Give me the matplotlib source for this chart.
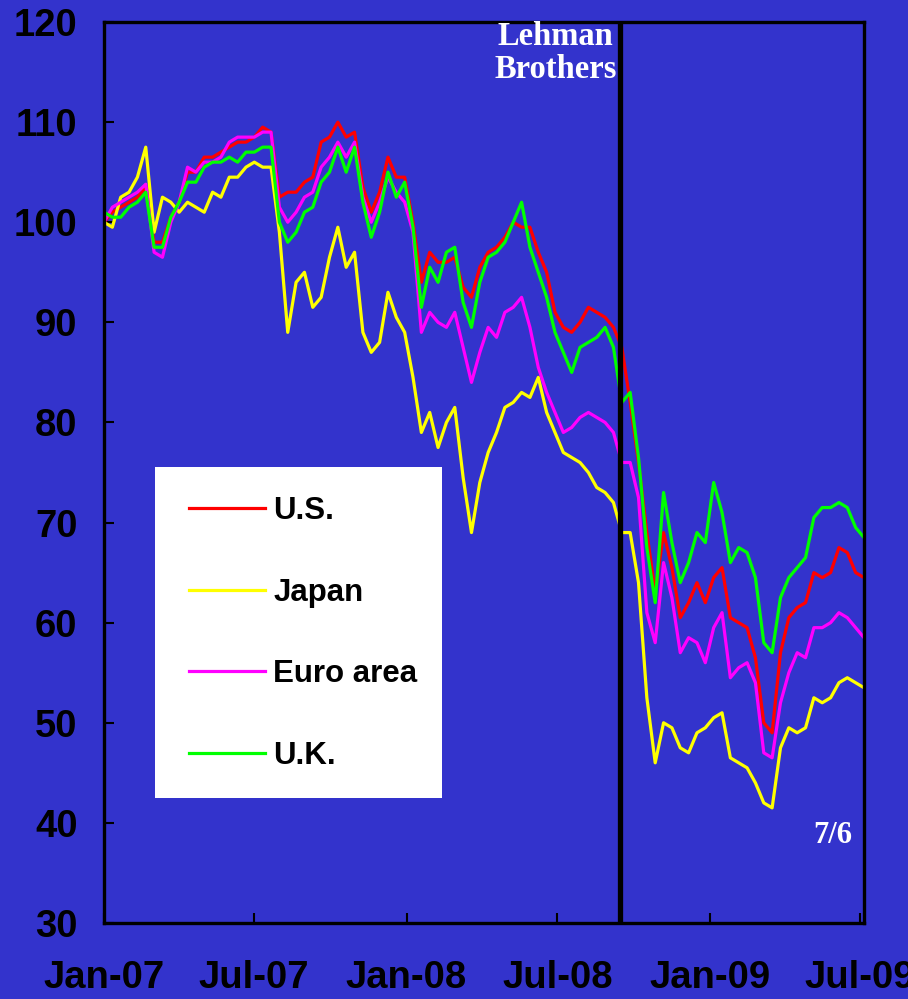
import matplotlib
matplotlib.use('Agg')
import matplotlib.pyplot as plt
import matplotlib.dates as mdates
from matplotlib.patches import Rectangle
import pandas as pd

# stock indices, Jan 2007 = 100, read roughly every 10 days
dates = pd.date_range('2007-01-01', '2009-07-06', periods=92)

us = [100, 101, 101.5, 102, 102.5, 103.5, 98, 98, 100.5, 102,
      105, 105, 106.5, 106.5, 107, 107.5, 108, 108, 108.5, 109.5,
      109, 102.5, 103, 103, 104, 104.5, 108, 108.5, 110, 108.5,
      109, 103.5, 101, 103, 106.5, 104.5, 104.5, 100, 94, 97,
      96, 96, 96.5, 93.5, 92.5, 95.5, 97, 97.5, 98.5, 100,
      99.5, 99.5, 97, 95, 91, 89.5, 89, 90, 91.5, 91,
      90.5, 89.5, 87.5, 82, 76, 69, 63, 69, 65.5, 60.5,
      62, 64, 62, 64.5, 65.5, 60.5, 60, 59.5, 56.5, 50,
      49, 57, 60.5, 61.5, 62, 65, 64.5, 65, 67.5, 67,
      65, 64.5]

jp = [100, 99.5, 102.5, 103, 104.5, 107.5, 99, 102.5, 102, 101,
      102, 101.5, 101, 103, 102.5, 104.5, 104.5, 105.5, 106, 105.5,
      105.5, 99, 89, 94, 95, 91.5, 92.5, 96.5, 99.5, 95.5,
      97, 89, 87, 88, 93, 90.5, 89, 84.5, 79, 81,
      77.5, 80, 81.5, 74.5, 69, 74, 77, 79, 81.5, 82,
      83, 82.5, 84.5, 81, 79, 77, 76.5, 76, 75, 73.5,
      73, 72, 69, 69, 64, 52.5, 46, 50, 49.5, 47.5,
      47, 49, 49.5, 50.5, 51, 46.5, 46, 45.5, 44, 42,
      41.5, 47.5, 49.5, 49, 49.5, 52.5, 52, 52.5, 54, 54.5,
      54, 53.5]

eu = [100, 101.5, 102, 102.5, 103, 103.8, 97, 96.5, 100, 102,
      105.5, 105, 106, 106, 106.5, 108, 108.5, 108.5, 108.5, 109,
      109, 101.5, 100, 101, 102.5, 103, 105.5, 106.5, 108, 106.5,
      108, 102.5, 100, 102, 104.5, 103, 102, 99, 89, 91,
      90, 89.5, 91, 87.5, 84, 87, 89.5, 88.5, 91, 91.5,
      92.5, 89.5, 85.5, 83, 81, 79, 79.5, 80.5, 81, 80.5,
      80, 79, 76, 76, 72.5, 61, 58, 66, 62.5, 57,
      58.5, 58, 56, 59.5, 61, 54.5, 55.5, 56, 54, 47,
      46.5, 52, 55, 57, 56.5, 59.5, 59.5, 60, 61, 60.5,
      59.5, 58.5]

uk = [101, 100.5, 100.5, 101.5, 102, 103, 97.5, 97.5, 100.5, 102,
      104, 104, 105.5, 106, 106, 106.5, 106, 107, 107, 107.5,
      107.5, 100, 98, 99, 101, 101.5, 104, 105, 107.5, 105,
      107.5, 102, 98.5, 101, 105, 102.5, 104, 99.5, 91.5, 95.5,
      94, 97, 97.5, 92, 89.5, 94, 96.5, 97, 98, 100,
      102, 97.5, 95, 92.5, 89, 87, 85, 87.5, 88, 88.5,
      89.5, 87.5, 82, 83, 76.5, 67.5, 62, 73, 68, 64,
      66, 69, 68, 74, 71, 66, 67.5, 67, 64.5, 58,
      57, 62.5, 64.5, 65.5, 66.5, 70.5, 71.5, 71.5, 72, 71.5,
      69.5, 68.5]

series = [('U.S.', us, '#FF0000'), ('Japan', jp, '#FFFF00'),
          ('Euro area', eu, '#FF00FF'), ('U.K.', uk, '#00FF00')]

lehman = pd.Timestamp('2008-09-15')
tick_dates = pd.to_datetime(['2007-01-01', '2007-07-01', '2008-01-01',
                             '2008-07-01', '2009-01-01', '2009-07-01'])

bg = '#3333CC'
fig = plt.figure(figsize=(9.08, 9.99), dpi=100)
fig.set_facecolor(bg)
ax = fig.add_axes([104 / 908, 76 / 999, 760 / 908, 901 / 999])
ax.set_facecolor(bg)

for name, vals, col in series:
    ax.plot(dates, vals, color=col, lw=2.3, label=name, zorder=2)

ax.axvline(lehman, color='black', lw=3.8, zorder=3)

ax.set_ylim(30, 120)
ax.set_yticks(range(30, 121, 10))
ax.set_xlim(pd.Timestamp('2007-01-01'), pd.Timestamp('2009-07-06'))
ax.set_xticks(tick_dates)
ax.xaxis.set_major_formatter(mdates.DateFormatter('%b-%y'))

for sp in ax.spines.values():
    sp.set_color('black')
    sp.set_linewidth(2.4)

ax.tick_params(axis='both', direction='in', length=7, width=1.5, color='black',
               labelcolor='black', labelsize=27.5)
ax.tick_params(axis='x', pad=27)
ax.tick_params(axis='y', pad=19)
for lab in ax.get_xticklabels() + ax.get_yticklabels():
    lab.set_fontfamily('Liberation Sans')
    lab.set_fontweight('bold')

# white legend box
ax.add_patch(Rectangle((0.067, 0.1387), 0.378, 0.367, transform=ax.transAxes,
                       facecolor='white', edgecolor='none', zorder=4))
leg = ax.legend(loc='upper left', bbox_to_anchor=(0.075, 0.505), frameon=False,
                handlelength=2.43, handletextpad=0.26, labelspacing=1.65,
                prop={'family': 'Liberation Sans', 'weight': 'bold', 'size': 22.5})
leg.set_zorder(5)

fig.text(617 / 908, 1 - 21 / 999, 'Lehman\nBrothers', color='white', ha='right',
         va='top', fontsize=23.5, fontweight='bold', family='Liberation Serif',
         linespacing=1.1, multialignment='center')
fig.text(852 / 908, 1 - 843 / 999, '7/6', color='white', ha='right', va='baseline',
         fontsize=22, fontweight='bold', family='Liberation Serif')

fig.savefig('out.png', dpi=100, facecolor=bg)
